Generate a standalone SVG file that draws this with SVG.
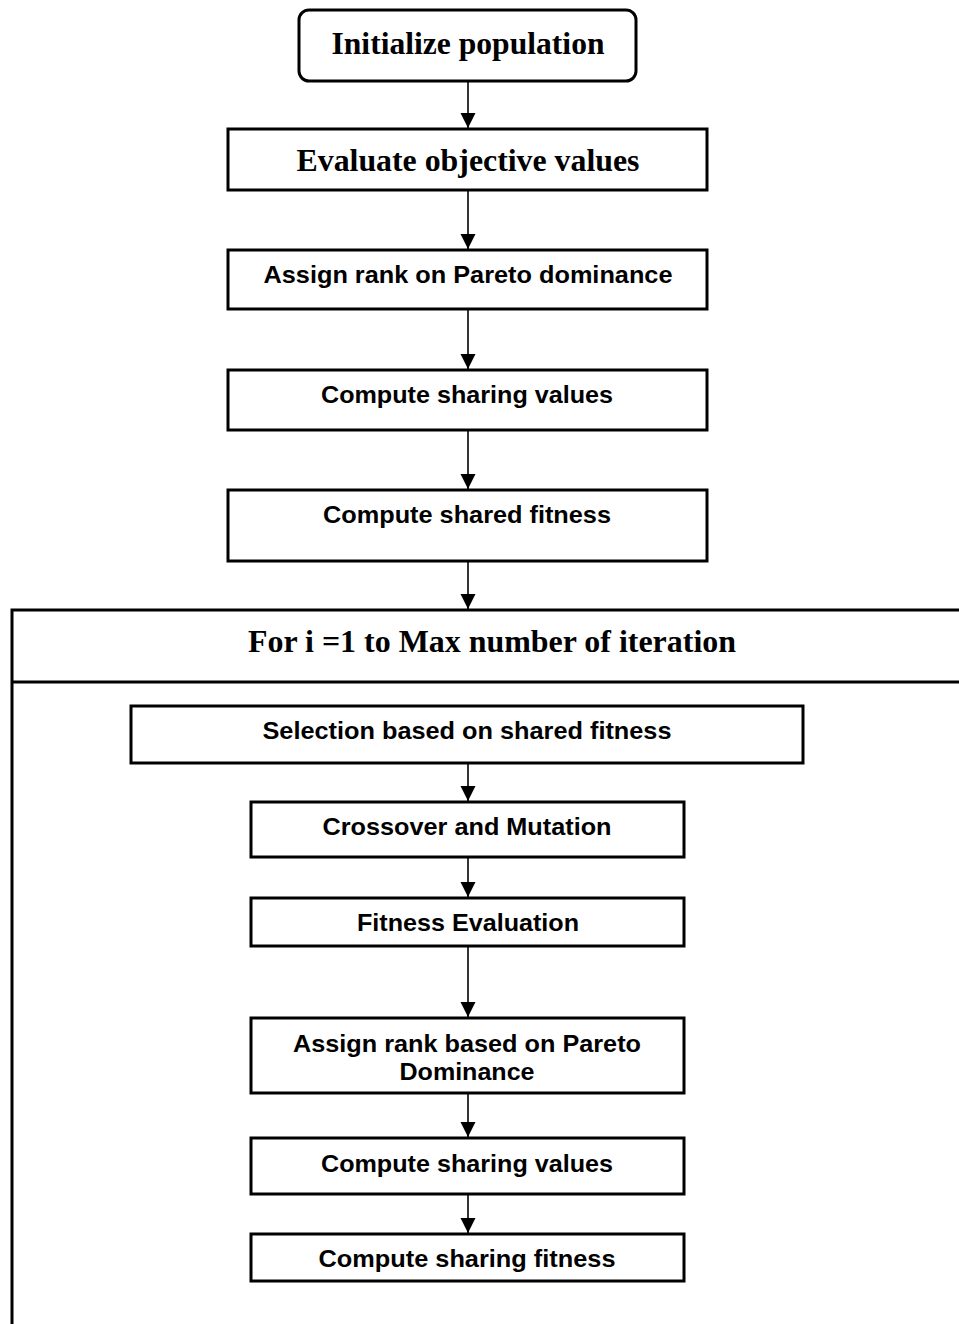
<svg xmlns="http://www.w3.org/2000/svg" width="959" height="1324" viewBox="0 0 959 1324">
  <style>
    .box { fill: #fff; stroke: #000; stroke-width: 3; }
    .frame { fill: none; stroke: #000; stroke-width: 3; }
    .edge { fill: none; stroke: #000; stroke-width: 1.6; marker-end: url(#arrow); }
    .serif { font-family: "Liberation Serif", "Times New Roman", serif; font-weight: bold; font-size: 32px; text-anchor: middle; fill: #000; }
    .sans { font-family: "Liberation Sans", Arial, sans-serif; font-weight: bold; font-size: 24px; text-anchor: middle; fill: #000; }
  </style>
  <defs>
    <marker id="arrow" markerUnits="userSpaceOnUse" markerWidth="16" markerHeight="18" refX="15" refY="7.5" orient="auto">
      <path d="M0,0 L15,7.5 L0,15 Z" fill="#000"/>
    </marker>
  </defs>
  <rect width="959" height="1324" fill="#fff"/>

  <!-- loop frame: header band and open body -->
  <g id="loop">
    <path class="frame" d="M965 610 H12 V1324 M12 682 H965"/>
    <text class="serif" x="492" y="652" textLength="488" lengthAdjust="spacingAndGlyphs">For i =1 to Max number of iteration</text>
  </g>

  <g id="init">
    <rect class="box" x="299" y="10" width="337" height="71" rx="10"/>
    <text class="serif" x="468" y="54" textLength="273" lengthAdjust="spacingAndGlyphs">Initialize population</text>
  </g>
  <g id="evaluate">
    <rect class="box" x="228" y="129" width="479" height="61"/>
    <text class="serif" x="468" y="171" textLength="343" lengthAdjust="spacingAndGlyphs">Evaluate objective values</text>
  </g>
  <g id="rank">
    <rect class="box" x="228" y="250" width="479" height="59"/>
    <text class="sans" x="468" y="283" textLength="409" lengthAdjust="spacingAndGlyphs">Assign rank on Pareto dominance</text>
  </g>
  <g id="sharing">
    <rect class="box" x="228" y="370" width="479" height="60"/>
    <text class="sans" x="467" y="403" textLength="292" lengthAdjust="spacingAndGlyphs">Compute sharing values</text>
  </g>
  <g id="shared-fitness">
    <rect class="box" x="228" y="490" width="479" height="71"/>
    <text class="sans" x="467" y="523" textLength="288" lengthAdjust="spacingAndGlyphs">Compute shared fitness</text>
  </g>

  <g id="selection">
    <rect class="box" x="131" y="706" width="672" height="57"/>
    <text class="sans" x="467" y="739" textLength="409" lengthAdjust="spacingAndGlyphs">Selection based on shared fitness</text>
  </g>
  <g id="crossover">
    <rect class="box" x="251" y="802" width="433" height="55"/>
    <text class="sans" x="467" y="835" textLength="289" lengthAdjust="spacingAndGlyphs">Crossover and Mutation</text>
  </g>
  <g id="fitness-eval">
    <rect class="box" x="251" y="898" width="433" height="48"/>
    <text class="sans" x="468" y="931" textLength="222" lengthAdjust="spacingAndGlyphs">Fitness Evaluation</text>
  </g>
  <g id="rank-loop">
    <rect class="box" x="251" y="1018" width="433" height="75"/>
    <text class="sans" x="467" y="1052" textLength="348" lengthAdjust="spacingAndGlyphs">Assign rank based on Pareto</text>
    <text class="sans" x="467" y="1080" textLength="135" lengthAdjust="spacingAndGlyphs">Dominance</text>
  </g>
  <g id="sharing-loop">
    <rect class="box" x="251" y="1138" width="433" height="56"/>
    <text class="sans" x="467" y="1172" textLength="292" lengthAdjust="spacingAndGlyphs">Compute sharing values</text>
  </g>
  <g id="sharing-fitness-loop">
    <rect class="box" x="251" y="1234" width="433" height="47"/>
    <text class="sans" x="467" y="1267" textLength="297" lengthAdjust="spacingAndGlyphs">Compute sharing fitness</text>
  </g>

  <g id="connectors">
    <line class="edge" x1="468" y1="82" x2="468" y2="128"/>
    <line class="edge" x1="468" y1="191" x2="468" y2="249"/>
    <line class="edge" x1="468" y1="310" x2="468" y2="369"/>
    <line class="edge" x1="468" y1="431" x2="468" y2="489"/>
    <line class="edge" x1="468" y1="562" x2="468" y2="609"/>
    <line class="edge" x1="468" y1="764" x2="468" y2="801"/>
    <line class="edge" x1="468" y1="858" x2="468" y2="897"/>
    <line class="edge" x1="468" y1="947" x2="468" y2="1017"/>
    <line class="edge" x1="468" y1="1094" x2="468" y2="1137"/>
    <line class="edge" x1="468" y1="1195" x2="468" y2="1233"/>
  </g>
</svg>
